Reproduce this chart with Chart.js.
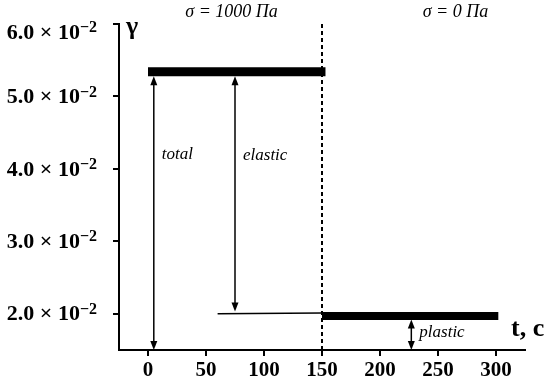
<!DOCTYPE html>
<html>
<head>
<meta charset="utf-8">
<script src="https://cdn.jsdelivr.net/npm/chart.js@4.4.1/dist/chart.umd.min.js"></script>
<style>
    body { margin: 0; background: #fff; }
</style>
</head>
<body>
<canvas id="creepChart" width="550" height="385"></canvas>
<script>
// axis ticks
const xTicks = [0, 50, 100, 150, 200, 250, 300];
const yTicks = [0.02, 0.03, 0.04, 0.05, 0.06];

// strain curve pieces (t in s, strain)
const loadT = [0, 153];
const loadStrain = [0.0534, 0.0534];
const dropT = [60, 150];
const dropStrain = [0.0200, 0.0201];
const recoveryT = [150, 302];
const recoveryStrain = [0.0197, 0.0197];
const switchT = 150;

// strain components (double arrows)
const arrowNames = ['total', 'elastic', 'plastic'];
const arrowT = [5, 75, 227];
const arrowTop = [0.0528, 0.0528, 0.0192];
const arrowBottom = [0.015, 0.0203, 0.015];

// stress regimes
const stressLabels = ['σ = 1000 Па', 'σ = 0 Па'];
const stressT = [72, 265];

const serif = "'Liberation Serif', 'Times New Roman', serif";

function toPoints(xs, ys) {
    return xs.map((x, i) => ({ x: x, y: ys[i] }));
}

function drawArrowHead(ctx, x, y, dir) {
    // dir: -1 points up, 1 points down
    ctx.beginPath();
    ctx.moveTo(x, y);
    ctx.lineTo(x - 3.5, y - dir * 9);
    ctx.lineTo(x + 3.5, y - dir * 9);
    ctx.closePath();
    ctx.fill();
}

const annotations = {
    id: 'annotations',
    afterDatasetsDraw(chart) {
        const ctx = chart.ctx;
        const xs = chart.scales.x;
        const ys = chart.scales.y;
        ctx.save();
        ctx.strokeStyle = '#000';
        ctx.fillStyle = '#000';
        ctx.lineWidth = 1.5;
        arrowT.forEach((t, i) => {
            const px = xs.getPixelForValue(t);
            const top = ys.getPixelForValue(arrowTop[i]);
            const bottom = ys.getPixelForValue(arrowBottom[i]);
            ctx.beginPath();
            ctx.moveTo(px, top + 6);
            ctx.lineTo(px, bottom - 6);
            ctx.stroke();
            drawArrowHead(ctx, px, top, -1);
            drawArrowHead(ctx, px, bottom, 1);
        });

        // component labels
        ctx.font = 'italic 17px ' + serif;
        ctx.textBaseline = 'alphabetic';
        ctx.textAlign = 'left';
        const labelY = [159, 160, 337];
        arrowT.forEach((t, i) => {
            ctx.fillText(arrowNames[i], xs.getPixelForValue(t) + 8, labelY[i]);
        });
        ctx.restore();
    },
    afterDraw(chart) {
        const ctx = chart.ctx;
        const xs = chart.scales.x;
        const ys = chart.scales.y;
        const area = chart.chartArea;
        ctx.save();
        ctx.fillStyle = '#000';

        // y tick labels with exponent
        const mainFont = 'bold 22px ' + serif;
        const expFont = 'bold 16px ' + serif;
        yTicks.forEach(v => {
            const py = Math.max(ys.getPixelForValue(v), area.top + 8);
            const mant = (v * 100).toFixed(1) + ' × 10';
            ctx.textBaseline = 'middle';
            ctx.textAlign = 'left';
            ctx.font = expFont;
            const expW = ctx.measureText('−2').width;
            ctx.font = mainFont;
            const mantW = ctx.measureText(mant).width;
            const right = 97;
            ctx.fillText(mant, right - expW - mantW, py + 1);
            ctx.font = expFont;
            ctx.fillText('−2', right - expW, py - 4);
        });

        // stress regime titles
        ctx.font = 'italic 18px ' + serif;
        ctx.textAlign = 'center';
        ctx.textBaseline = 'middle';
        stressT.forEach((t, i) => {
            ctx.fillText(stressLabels[i], xs.getPixelForValue(t), 12);
        });

        // axis titles
        ctx.textAlign = 'left';
        ctx.textBaseline = 'alphabetic';
        ctx.font = 'bold 26px ' + serif;
        ctx.fillText('γ', area.left + 7, 34);
        ctx.fillText('t, с', 511, 336);
        ctx.restore();
    }
};

const tickFont = { family: serif, size: 21, weight: 'bold' };

new Chart(document.getElementById('creepChart'), {
    type: 'scatter',
    data: {
        datasets: [
            {
                data: toPoints(loadT, loadStrain),
                showLine: true,
                borderColor: '#000',
                borderWidth: 9,
                borderCapStyle: 'butt',
                pointRadius: 0
            },
            {
                data: toPoints(dropT, dropStrain),
                showLine: true,
                borderColor: '#000',
                borderWidth: 1.5,
                pointRadius: 0
            },
            {
                data: toPoints(recoveryT, recoveryStrain),
                showLine: true,
                borderColor: '#000',
                borderWidth: 8,
                borderCapStyle: 'butt',
                pointRadius: 0
            },
            {
                data: [{ x: switchT, y: 0.015 }, { x: switchT, y: 0.06 }],
                showLine: true,
                borderColor: '#000',
                borderWidth: 2,
                borderDash: [4, 3],
                pointRadius: 0
            }
        ]
    },
    options: {
        responsive: false,
        animation: false,
        layout: { padding: { top: 24, right: 25, left: 0, bottom: 0 } },
        plugins: {
            legend: { display: false },
            tooltip: { enabled: false }
        },
        scales: {
            x: {
                type: 'linear',
                min: -25,
                max: 325,
                afterBuildTicks: s => { s.ticks = xTicks.map(v => ({ value: v })); },
                afterFit: s => { s.height = 35; },
                grid: { drawOnChartArea: false, tickLength: 6, color: '#000', lineWidth: 2 },
                border: { color: '#000', width: 2 },
                ticks: { color: '#000', font: tickFont, padding: 2, maxRotation: 0, autoSkip: false }
            },
            y: {
                type: 'linear',
                min: 0.015,
                max: 0.06,
                afterBuildTicks: s => { s.ticks = yTicks.map(v => ({ value: v })); },
                afterFit: s => { s.width = 119; },
                grid: { drawOnChartArea: false, tickLength: 6, color: '#000', lineWidth: 2 },
                border: { color: '#000', width: 2 },
                ticks: { callback: () => '' }
            }
        }
    },
    plugins: [annotations]
});
</script>
</body>
</html>
